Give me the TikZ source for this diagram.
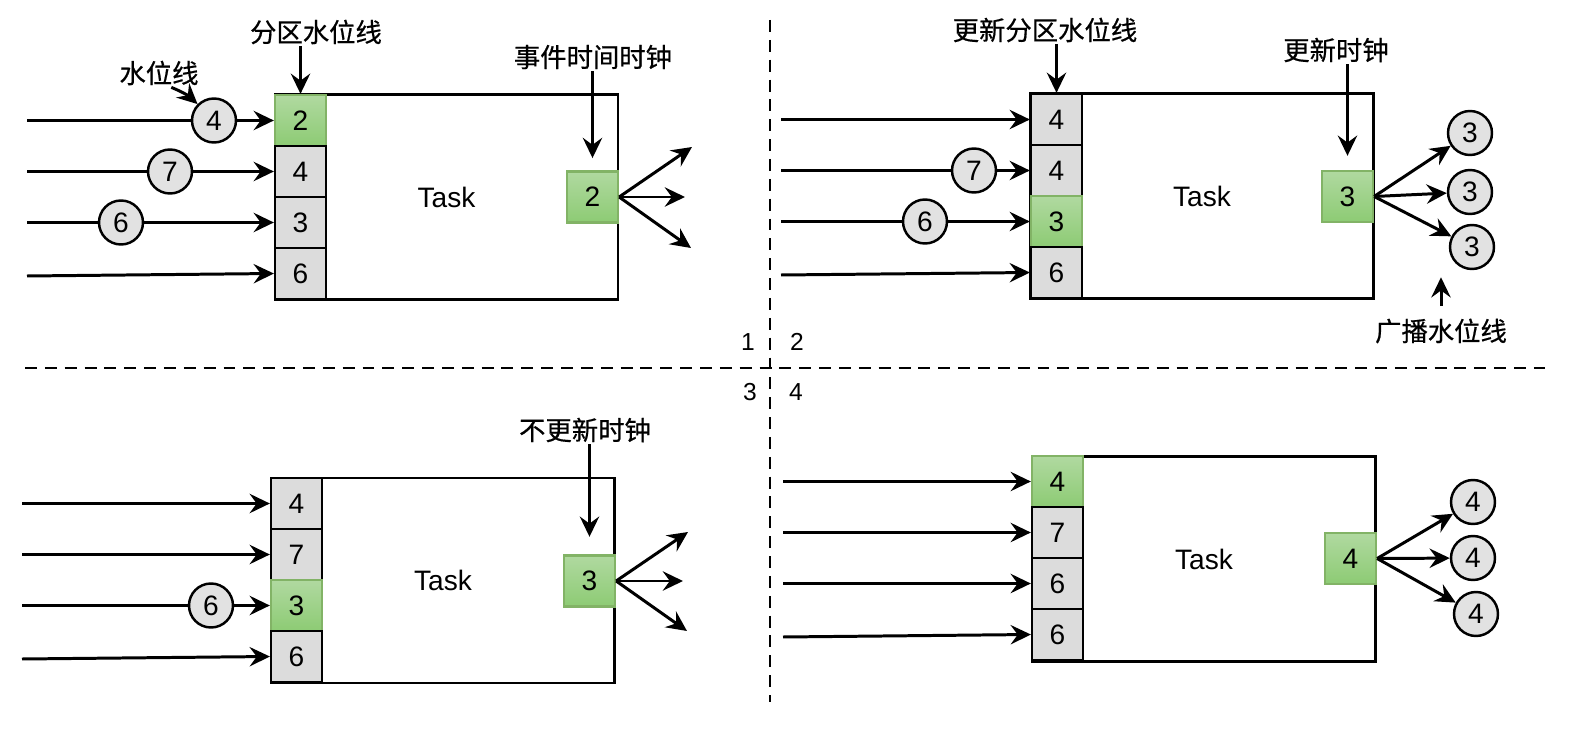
\documentclass[tikz,border=0pt]{standalone}
\usepackage{fontspec}
\setmainfont{Liberation Sans}
\newfontfamily\cjk[FakeBold=0.6]{Noto Sans CJK SC}
\usetikzlibrary{arrows.meta}
\definecolor{gtop}{RGB}{176,217,160}
\definecolor{gbot}{RGB}{141,203,116}
\definecolor{gline}{RGB}{130,179,102}
\definecolor{pgray}{RGB}{220,220,220}
\definecolor{cgray}{RGB}{226,226,226}

\begin{document}
\begin{tikzpicture}[
        x=0.02cm, y=-0.02cm,
        every node/.style={font=\fontsize{16}{18}\selectfont},
        task/.style={rectangle, draw, line width=1.6pt,
            minimum width=6.86cm, minimum height=4.1cm},
        part/.style={rectangle, draw, line width=1.3pt, fill=pgray,
            minimum size=1.02cm, inner sep=0pt},
        partg/.style={part, draw=gline, top color=gtop, bottom color=gbot},
        wm/.style={circle, draw, line width=1.4pt, fill=cgray,
            minimum size=0.88cm, inner sep=0pt},
        lbl/.style={font=\cjk\fontsize{15}{17}\selectfont, inner sep=1pt},
        num/.style={font=\fontsize{14}{16}\selectfont},
        arrow/.style={-{Stealth[length=11.5pt, width=11pt, inset=4pt]},
            line width=1.7pt},
        sep/.style={line width=1.7pt, dash pattern=on 6.8pt off 4.5pt}
      ]
      \useasboundingbox (0,0) rectangle (1580,750);

      % separators
      \coordinate (vt) at (770,20);
      \coordinate (vb) at (770,702);
      \coordinate (hl) at (25,368);
      \coordinate (hr) at (1545,368);
      \draw[sep] (vt) -- (vb);
      \draw[sep] (hl) -- (hr);
      \node[num] (n1) at (748,342) {1};
      \node[num] (n2) at (797,342) {2};
      \node[num] (n3) at (750,392) {3};
      \node[num] (n4) at (796,392) {4};

      % 1
      \node[task] (t1) at (446.5,197) {Task};
      \foreach \n/\y/\s/\txt in {a/120.5/partg/2, b/171.5/part/4,
          c/222.5/part/3, d/273.5/part/6}{
          \node[\s] (p1\n) at (300.5,\y) {\txt};
        }
      \node[partg] (c1) at (592.5,197) {2};

      \coordinate (s1a) at (27,120.5);
      \coordinate (s1b) at (27,171.5);
      \coordinate (s1c) at (27,222.5);
      \coordinate (s1d) at (27,276);
      \draw[arrow] (s1a) -- (p1a.west);
      \draw[arrow] (s1b) -- (p1b.west);
      \draw[arrow] (s1c) -- (p1c.west);
      \draw[arrow] (s1d) -- (p1d.west);
      \node[wm] (w1a) at (214,120.5) {4};
      \node[wm] (w1b) at (170,171.5) {7};
      \node[wm] (w1c) at (121,222.5) {6};

      \coordinate (o1a) at (692,147);
      \coordinate (o1b) at (685,197);
      \coordinate (o1c) at (691,248);
      \draw[arrow] (c1.east) -- (o1a);
      \draw[arrow] (c1.east) -- (o1b);
      \draw[arrow] (c1.east) -- (o1c);

      \node[lbl] (l1a) at (159,73) {水位线};
      \node[lbl] (l1b) at (316,32) {分区水位线};
      \node[lbl] (l1c) at (593,57) {事件时间时钟};
      \draw[arrow] ([xshift=7pt]l1a.south) to[bend left=10] (w1a.north west);
      \draw[arrow] (l1b.south -| p1a.north) -- (p1a.north);
      \draw[arrow, shorten >=7pt] (l1c.south -| c1.north) -- (c1.north);

      % 2
      \node[task] (t2) at (1202,196) {Task};
      \foreach \n/\y/\s/\txt in {a/119.5/part/4, b/170.5/part/4,
          c/221.5/partg/3, d/272.5/part/6}{
          \node[\s] (p2\n) at (1056.5,\y) {\txt};
        }
      \node[partg] (c2) at (1347.5,196.5) {3};

      \coordinate (s2a) at (781,119.5);
      \coordinate (s2b) at (781,170.5);
      \coordinate (s2c) at (781,221.5);
      \coordinate (s2d) at (781,275);
      \draw[arrow] (s2a) -- (p2a.west);
      \draw[arrow] (s2b) -- (p2b.west);
      \draw[arrow] (s2c) -- (p2c.west);
      \draw[arrow] (s2d) -- (p2d.west);
      \node[wm] (w2b) at (974,170.5) {7};
      \node[wm] (w2c) at (925,221.5) {6};

      \node[wm] (o2a) at (1470,133) {3};
      \node[wm] (o2b) at (1470,192) {3};
      \node[wm] (o2c) at (1472,247) {3};
      \draw[arrow] (c2.east) -- (o2a);
      \draw[arrow] (c2.east) -- (o2b);
      \draw[arrow] (c2.east) -- (o2c);

      \node[lbl] (l2a) at (1045,30) {更新分区水位线};
      \node[lbl] (l2b) at (1336,50) {更新时钟};
      \node[lbl] (l2c) at (1441,331) {广播水位线};
      \draw[arrow] (l2a.south -| p2a.north) -- (p2a.north);
      \draw[arrow, shorten >=8pt] (l2b.south -| c2.north) -- (c2.north);
      \draw[arrow, shorten <=6pt, shorten >=4pt]
      (l2c.north) -- (l2c.north |- o2c.south);

      % 3
      \node[task] (t3) at (443,580.5) {Task};
      \foreach \n/\y/\s/\txt in {a/503.5/part/4, b/554.5/part/7,
          c/605.5/partg/3, d/656.5/part/6}{
          \node[\s] (p3\n) at (296.5,\y) {\txt};
        }
      \node[partg] (c3) at (589.5,581) {3};

      \coordinate (s3a) at (22,503.5);
      \coordinate (s3b) at (22,554.5);
      \coordinate (s3c) at (22,605.5);
      \coordinate (s3d) at (22,659);
      \draw[arrow] (s3a) -- (p3a.west);
      \draw[arrow] (s3b) -- (p3b.west);
      \draw[arrow] (s3c) -- (p3c.west);
      \draw[arrow] (s3d) -- (p3d.west);
      \node[wm] (w3c) at (211,605.5) {6};

      \coordinate (o3a) at (688,532);
      \coordinate (o3b) at (683,581);
      \coordinate (o3c) at (687,631);
      \draw[arrow] (c3.east) -- (o3a);
      \draw[arrow] (c3.east) -- (o3b);
      \draw[arrow] (c3.east) -- (o3c);

      \node[lbl] (l3a) at (585,430) {不更新时钟};
      \draw[arrow, shorten >=10pt] (l3a.south -| c3.north) -- (c3.north);

      % 4
      \node[task] (t4) at (1204,559) {Task};
      \foreach \n/\y/\s/\txt in {a/481.5/partg/4, b/532.5/part/7,
          c/583.5/part/6, d/634.5/part/6}{
          \node[\s] (p4\n) at (1057.5,\y) {\txt};
        }
      \node[partg] (c4) at (1350.5,558.5) {4};

      \coordinate (s4a) at (783,481.5);
      \coordinate (s4b) at (783,532.5);
      \coordinate (s4c) at (783,583.5);
      \coordinate (s4d) at (783,637);
      \draw[arrow] (s4a) -- (p4a.west);
      \draw[arrow] (s4b) -- (p4b.west);
      \draw[arrow] (s4c) -- (p4c.west);
      \draw[arrow] (s4d) -- (p4d.west);

      \node[wm] (o4a) at (1473,502) {4};
      \node[wm] (o4b) at (1473,558) {4};
      \node[wm] (o4c) at (1476,614) {4};
      \draw[arrow] (c4.east) -- (o4a);
      \draw[arrow] (c4.east) -- (o4b);
      \draw[arrow] (c4.east) -- (o4c);
    \end{tikzpicture}
\end{document}
